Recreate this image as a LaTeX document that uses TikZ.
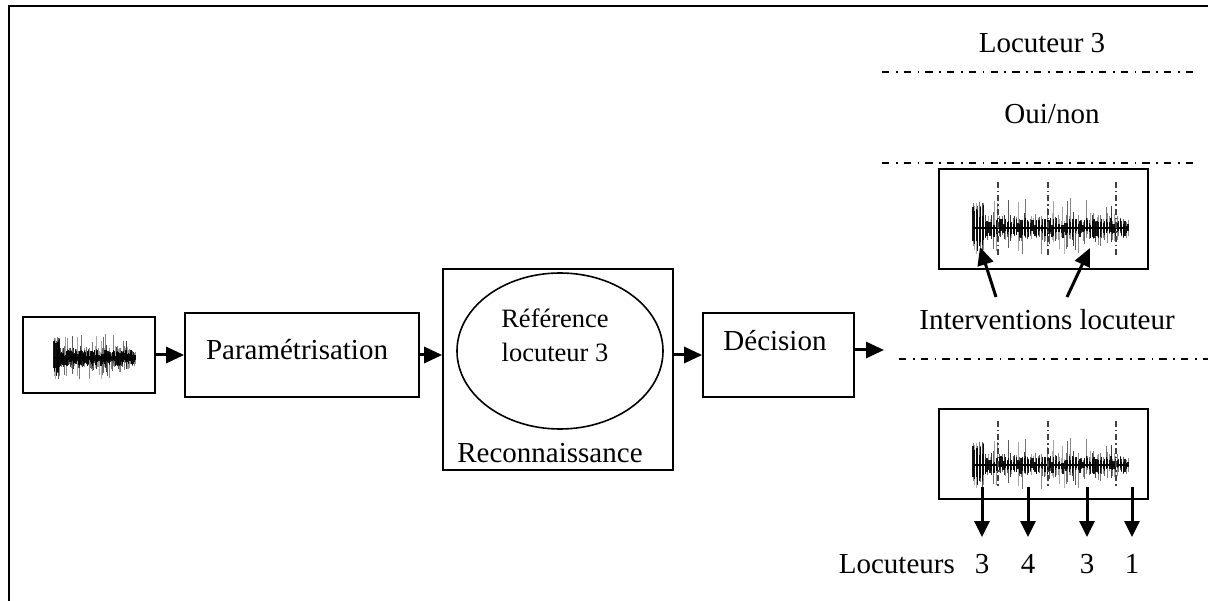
\documentclass[tikz,border=0pt]{standalone}
\usepackage{fontspec}
\setmainfont{Liberation Serif}
\usetikzlibrary{arrows.meta,shapes.geometric}

% speech-signal glyph: unit width, unit half-height
\tikzset{
  wave/.pic={
    \pgfmathsetseed{4242}
    \foreach \i in {0,...,100}{
      \pgfmathsetmacro\xx{\i/100}
      \pgfmathsetmacro\ra{rnd}
      \pgfmathsetmacro\rb{rnd}
      \pgfmathsetmacro\rc{rnd}
      \pgfmathsetmacro\rd{rnd}
      \pgfmathsetmacro\up{\xx<0.07 ? 0.6+0.4*\rb : (\xx>0.93 ? 0.15+0.2*\rb : (\ra>0.68 ? 0.4+0.6*\rb : 0.15+0.3*\rb))}
      \pgfmathsetmacro\dn{\xx<0.07 ? 0.6+0.4*\rd : (\xx>0.93 ? 0.15+0.2*\rd : (\rc>0.7 ? 0.4+0.5*\rd : 0.15+0.3*\rd))}
      \pgfmathsetmacro\op{0.3+0.5*rnd}
      \draw[line width=0.9pt, opacity=\op] (\xx,-\up) -- (\xx,\dn);
      \pgfmathsetmacro\cu{\xx<0.07 ? 0.35+0.45*rnd : 0.08+0.25*rnd}
      \pgfmathsetmacro\cd{\xx<0.07 ? 0.35+0.45*rnd : 0.08+0.25*rnd}
      \draw[line width=1.2pt, opacity=0.9] (\xx,-\cu) -- (\xx,\cd);
    }
    \draw[line width=2.2pt] (0,0) -- (1,0);
  }
}

\begin{document}
\begin{tikzpicture}[x=1pt,y=-1pt,
  box/.style={draw, line width=1.7pt, inner sep=0pt},
  conn/.style={line width=3pt, -{Triangle[length=18pt,width=16pt]}},
  bigconn/.style={line width=3pt, -{Triangle[length=16pt,width=15pt]}},
  sep/.style={line width=1.9pt, dash pattern=on 7.3pt off 6.5pt on 1.8pt off 6.1pt},
  cut/.style={line width=1.4pt, black!75, dash pattern=on 6pt off 3pt on 1.5pt off 3pt},
  lbl/.style={font=\fontsize{29}{34}\selectfont, anchor=base, inner sep=0pt},
  small/.style={font=\fontsize{26.5}{31}\selectfont, anchor=base, inner sep=0pt}]

\useasboundingbox (0,0) rectangle (1208,601);

% outer frame
\draw[line width=2.5pt] (9,615) -- (9,6) -- (1220,6);

% processing chain
\node[box, minimum width=132pt, minimum height=76pt] (in) at (89,355) {};
\pic[xscale=81, yscale=24] at (54,358) {wave};

\node[box, minimum width=234pt, minimum height=84pt] (param) at (302,355) {};
\node[lbl] (paramtxt) at (297,360) {Paramétrisation};

\node[box, minimum width=230pt, minimum height=201pt] (recon) at (558,369.5) {};
\node[draw, ellipse, line width=1.6pt, minimum width=206pt, minimum height=156pt, inner sep=0pt] (ref) at (560,351) {};
\node[small] (ref1) at (555,328) {Référence};
\node[small] (ref2) at (555,362) {locuteur 3};
\node[lbl] (recontxt) at (550,463) {Reconnaissance};

\node[box, minimum width=151pt, minimum height=84pt] (dec) at (778.5,355) {};
\node[lbl] (dectxt) at (775,351) {Décision};

\coordinate (out) at (884,350);

\draw[conn] (in.east) -- (param.west);
\draw[conn] (param.east) -- (recon.west |- param.east);
\draw[conn] (recon.east |- dec.west) -- (dec.west);
\draw[conn] ([yshift=5pt]dec.east) -- (out);

% results column
\node[lbl] (loc3) at (1042,53) {Locuteur 3};
\draw[sep] (882,72) -- (1197,72);
\node[lbl] (ouinon) at (1052,124) {Oui/non};
\draw[sep] (882,163) -- (1197,163);

% verification output
\node[box, minimum width=209pt, minimum height=100pt] (wtop) at (1043.5,219) {};
\pic[xscale=155, yscale=30] at (973,228) {wave};
\foreach \x in {998,1048,1116} \draw[cut] (\x,182) -- (\x,258);
\node[lbl] (interv) at (1047,330) {Interventions locuteur};
\coordinate (a1s) at (996,297);
\coordinate (a1e) at (980,247);
\coordinate (a2s) at (1067,297);
\coordinate (a2e) at (1090,248);
\draw[conn] (a1s) -- (a1e);
\draw[conn] (a2s) -- (a2e);

\draw[sep] (899,359) -- (1215,359);

% segmentation output
\node[box, minimum width=209pt, minimum height=90pt] (wbot) at (1043.5,454) {};
\pic[xscale=155, yscale=27] at (973,465) {wave};
\foreach \x in {998,1048,1116} \draw[cut] (\x,421) -- (\x,488);

\node[lbl, anchor=base east] (locs) at (955,573) {Locuteurs};
\foreach \x/\d/\n in {982/3/a,1028/4/b,1087/3/c,1132/1/d}{
  \coordinate (s\n) at (\x,487);
  \coordinate (e\n) at (\x,537);
  \draw[bigconn] (s\n) -- (e\n);
  \node[lbl] (d\n) at (\x,573) {\d};
}
\end{tikzpicture}
\end{document}
